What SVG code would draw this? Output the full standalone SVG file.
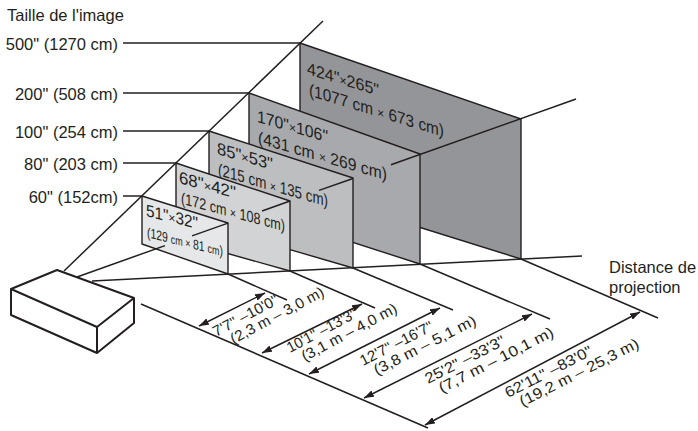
<svg xmlns="http://www.w3.org/2000/svg" width="698" height="431" viewBox="0 0 698 431">
<defs>
<style>
text{font-family:"Liberation Sans",Arial,sans-serif;fill:#231f20}
.lbl{font-size:16.5px}
.scr{font-size:17px}
.x{font-size:13px}
.dim{font-size:15px}
.ln{stroke:#231f20;stroke-width:1.5;fill:none}
.edge{stroke:#231f20;stroke-width:1.4;stroke-linejoin:round}
.arr{stroke:#231f20;stroke-width:1.5;fill:none;marker-start:url(#ah);marker-end:url(#ah)}
</style>
<marker id="ah" viewBox="0 0 10 7" refX="10" refY="3.5" markerWidth="10" markerHeight="7" markerUnits="userSpaceOnUse" orient="auto-start-reverse">
<path d="M0,0 L10,3.5 L0,7 z" fill="#231f20"/>
</marker>
</defs>
<rect width="698" height="431" fill="#fff"/>

<text class="lbl" x="7" y="21">Taille de l'image</text>

<g id="sizes">
<text class="lbl" x="118" y="49.5" text-anchor="end">500" (1270 cm)</text>
<text class="lbl" x="118" y="99.5" text-anchor="end">200" (508 cm)</text>
<text class="lbl" x="118" y="137.5" text-anchor="end">100" (254 cm)</text>
<text class="lbl" x="118" y="169.5" text-anchor="end">80" (203 cm)</text>
<text class="lbl" x="118" y="202.5" text-anchor="end">60" (152cm)</text>
</g>

<g id="screen500">
<polygon class="edge" points="300,43 521,119 521,259 300,190" fill="#939598"/>
<g transform="translate(307,74) skewY(17)">
<text class="scr" x="0" y="0" textLength="72" lengthAdjust="spacingAndGlyphs">424"<tspan class="x">×</tspan>265"</text>
<text class="scr" x="2" y="21" textLength="135" lengthAdjust="spacingAndGlyphs">(1077 cm <tspan class="x">×</tspan> 673 cm)</text>
</g>
</g>
<g id="screen200">
<polygon class="edge" points="249,93 420,154 420,264 249,209" fill="#a7a9ac"/>
<g transform="translate(257,122) skewY(16)">
<text class="scr" x="0" y="0" textLength="71" lengthAdjust="spacingAndGlyphs">170"<tspan class="x">×</tspan>106"</text>
<text class="scr" x="1" y="21" textLength="129" lengthAdjust="spacingAndGlyphs">(431 cm <tspan class="x">×</tspan> 269 cm)</text>
</g>
</g>
<g id="screen100">
<polygon class="edge" points="209,131 353,178 353,268 209,226" fill="#bcbec0"/>
<g transform="translate(217,154) skewY(16)">
<text class="scr" x="0" y="0" textLength="56" lengthAdjust="spacingAndGlyphs">85"<tspan class="x">×</tspan>53"</text>
<text class="scr" x="1" y="21" textLength="110" lengthAdjust="spacingAndGlyphs">(215 cm <tspan class="x">×</tspan> 135 cm)</text>
</g>
</g>
<g id="screen80">
<polygon class="edge" points="176,163 290,201 290,271 176,239" fill="#d1d3d4"/>
<g transform="translate(179,183) skewY(15)">
<text class="scr" x="0" y="0" textLength="57" lengthAdjust="spacingAndGlyphs">68"<tspan class="x">×</tspan>42"</text>
<text class="scr" x="2" y="20" textLength="104" lengthAdjust="spacingAndGlyphs" style="font-size:16px">(172 cm <tspan class="x">×</tspan> 108 cm)</text>
</g>
</g>
<g id="screen60">
<polygon class="edge" points="142,196 228,223 228,274 142,244" fill="#e6e7e8"/>
<g transform="translate(146,216) skewY(14)">
<text class="scr" x="0" y="0" textLength="52" lengthAdjust="spacingAndGlyphs">51"<tspan class="x">×</tspan>32"</text>
<text class="scr" x="1" y="21" textLength="76" lengthAdjust="spacingAndGlyphs" style="font-size:14px">(129 <tspan style="font-size:12px">cm × </tspan>81 <tspan style="font-size:12px">cm</tspan>)</text>
</g>
</g>

<g id="projector">
<path d="M57,270 L134,298 L134,323 L97,353 L11,315 L11,289 Z M11,289 L97,327 L134,298 M97,327 L97,353" fill="#fff" stroke="#231f20" stroke-width="2" stroke-linejoin="round"/>
</g>

<g id="connectors">
<line class="ln" x1="123" y1="43" x2="300" y2="43"/>
<line class="ln" x1="123" y1="93" x2="249" y2="93"/>
<line class="ln" x1="123" y1="131" x2="209" y2="131"/>
<line class="ln" x1="123" y1="163" x2="176" y2="163"/>
<line class="ln" x1="123" y1="196" x2="142" y2="196"/>
<line class="ln" x1="64" y1="271" x2="323" y2="21"/>
<line class="ln" x1="77" y1="277" x2="165" y2="245.6"/>
<line class="ln" x1="192" y1="235.9" x2="228" y2="223.1"/>
<line class="ln" x1="262" y1="211" x2="290" y2="201"/>
<line class="ln" x1="319" y1="190.4" x2="353" y2="178.5"/>
<line class="ln" x1="391" y1="164.8" x2="576" y2="99"/>
<line class="ln" x1="92" y1="281" x2="582" y2="256"/>
<line class="ln" x1="228" y1="274" x2="287" y2="300"/>
<line class="ln" x1="290" y1="271" x2="375" y2="308"/>
<line class="ln" x1="353" y1="268" x2="453" y2="310"/>
<line class="ln" x1="420" y1="264" x2="550" y2="319"/>
<line class="ln" x1="521" y1="259" x2="658" y2="318"/>
<line class="ln" x1="141" y1="304" x2="428" y2="428"/>
<line class="arr" x1="199" y1="326" x2="265" y2="293"/>
<line class="arr" x1="262" y1="353" x2="362" y2="304"/>
<line class="arr" x1="309" y1="374" x2="440" y2="308"/>
<line class="arr" x1="364" y1="398" x2="532" y2="314"/>
<line class="arr" x1="425" y1="425" x2="640" y2="312"/>
</g>

<g id="distances">
<g transform="translate(216,337) rotate(-28)">
<text class="dim" x="0" y="0" textLength="72" lengthAdjust="spacingAndGlyphs">7'7" –10'0"</text>
<text class="dim" x="12" y="14.5" textLength="104" lengthAdjust="spacingAndGlyphs">(2,3 m – 3,0 m)</text>
</g>
<g transform="translate(290,353) rotate(-28)">
<text class="dim" x="0" y="0" textLength="77" lengthAdjust="spacingAndGlyphs">10'1" –13'3"</text>
<text class="dim" x="9" y="14.5" textLength="106" lengthAdjust="spacingAndGlyphs">(3,1 m – 4,0 m)</text>
</g>
<g transform="translate(363,366) rotate(-27)">
<text class="dim" x="0" y="0" textLength="80" lengthAdjust="spacingAndGlyphs">12'7" –16'7"</text>
<text class="dim" x="8" y="14.5" textLength="113" lengthAdjust="spacingAndGlyphs">(3,8 m – 5,1 m)</text>
</g>
<g transform="translate(428,384) rotate(-27)">
<text class="dim" x="0" y="0" textLength="88" lengthAdjust="spacingAndGlyphs">25'2" –33'3"</text>
<text class="dim" x="8" y="14.5" textLength="127" lengthAdjust="spacingAndGlyphs">(7,7 m – 10,1 m)</text>
</g>
<g transform="translate(508,398) rotate(-27)">
<text class="dim" x="0" y="0" textLength="96" lengthAdjust="spacingAndGlyphs">62'11" –83'0"</text>
<text class="dim" x="9" y="14.5" textLength="132" lengthAdjust="spacingAndGlyphs">(19,2 m – 25,3 m)</text>
</g>
</g>

<text class="lbl" x="609" y="273">Distance de</text>
<text class="lbl" x="609" y="293">projection</text>
</svg>
